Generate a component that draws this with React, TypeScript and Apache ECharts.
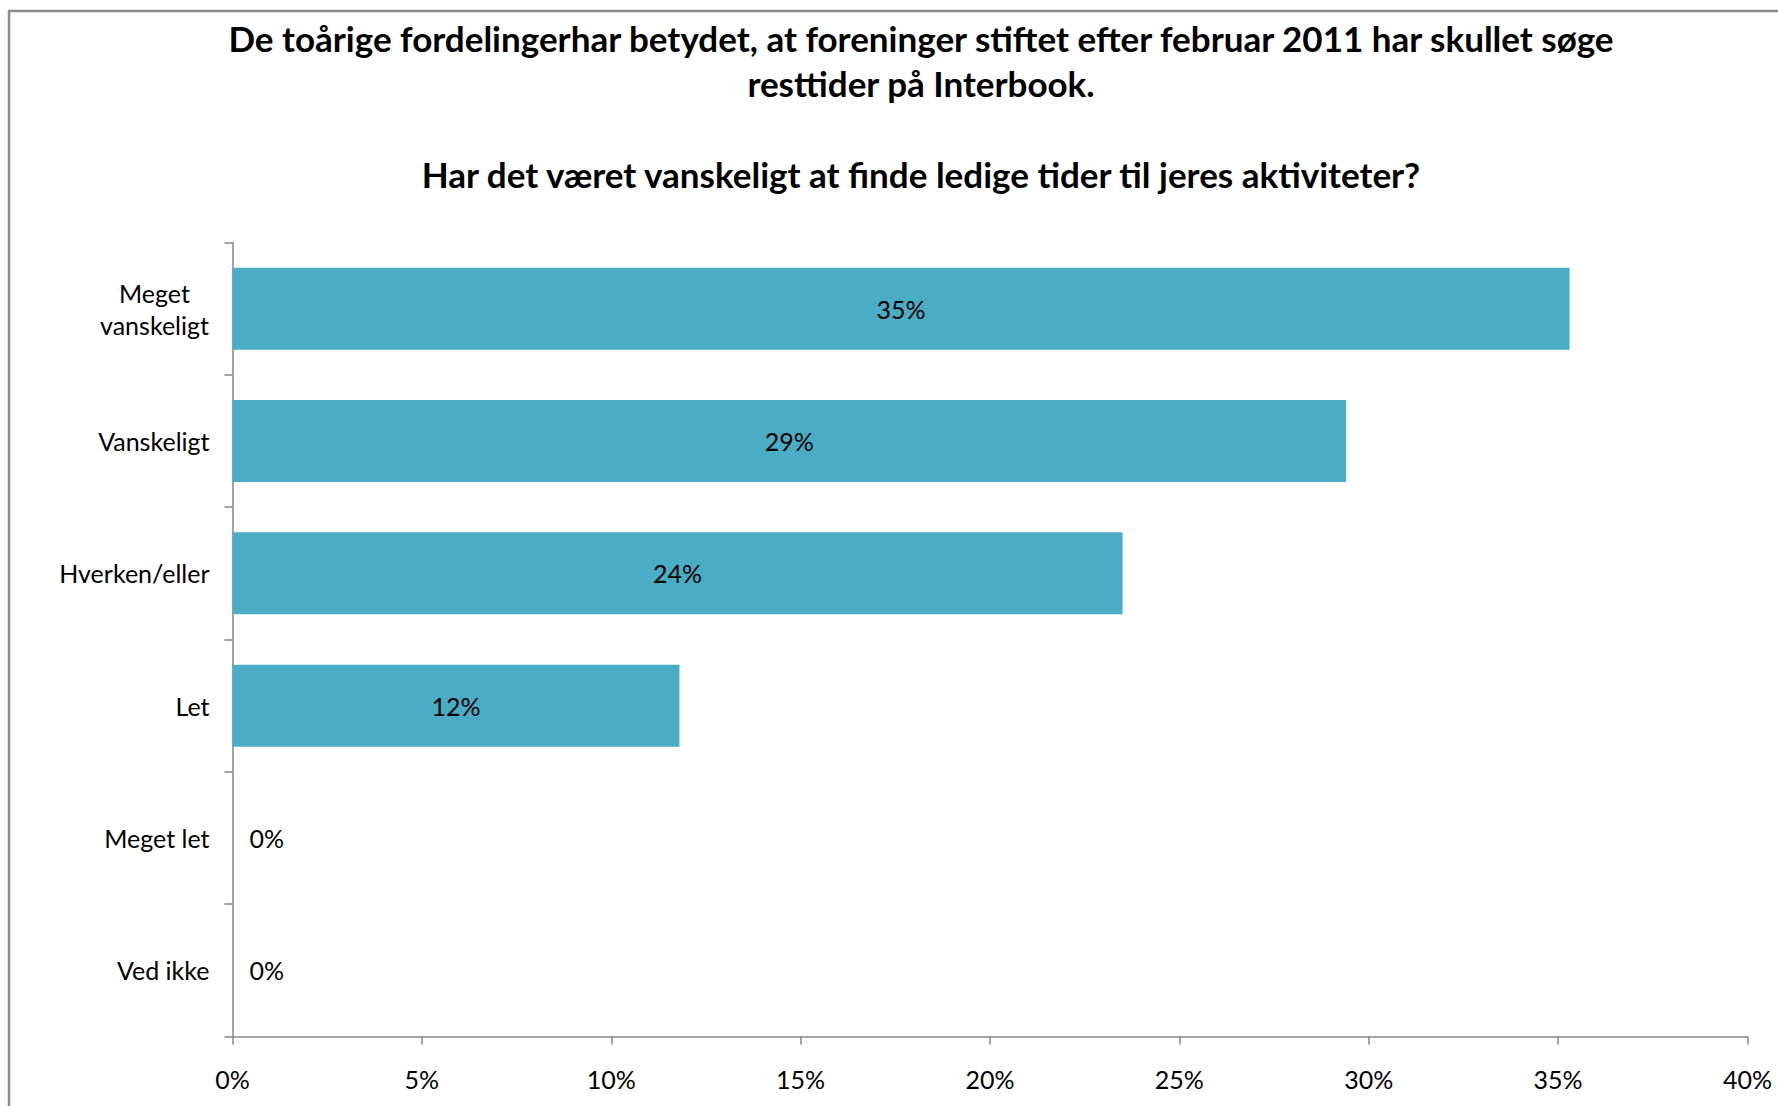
import React, { useEffect, useRef } from "react";
import * as echarts from "echarts";

const titleLines = [
  "De toårige fordelingerhar betydet, at foreninger stiftet efter februar 2011 har skullet søge",
  "resttider på Interbook.",
];
const subtitle = "Har det været vanskeligt at finde ledige tider til jeres aktiviteter?";
const categories = ["Meget\nvanskeligt", "Vanskeligt", "Hverken/eller", "Let", "Meget let", "Ved ikke"];
const values = [35.3, 29.4, 23.5, 11.8, 0, 0];
const xTicks = [0, 5, 10, 15, 20, 25, 30, 35, 40];

const FONT = "Lato, 'Open Sans', sans-serif";
const LABEL_SIZE = 25;

export default function App() {
  const ref = useRef<HTMLDivElement>(null);
  useEffect(() => {
    if (!ref.current) return;
    const chart = echarts.init(ref.current, null, { renderer: "svg" });
    const option = {
      animation: false,
      backgroundColor: "#ffffff",
      grid: { left: 232.5, right: 30.5, top: 242.5, bottom: 69.5, containLabel: false },
      graphic: [
        {
          type: "rect",
          shape: { x: 9, y: 11, width: 2000, height: 2000 },
          style: { fill: "none", stroke: "#8c8c8c", lineWidth: 2.5 },
          silent: true,
        },
        {
          type: "text",
          x: 921,
          y: 15.5,
          style: {
            text: titleLines.join("\n"),
            font: `bold 35px ${FONT}`,
            fill: "#000",
            textAlign: "center",
            textVerticalAlign: "top",
            lineHeight: 45,
          },
        },
        {
          type: "text",
          x: 921,
          y: 151.5,
          style: {
            text: subtitle,
            font: `bold 35px ${FONT}`,
            fill: "#000",
            textAlign: "center",
            textVerticalAlign: "top",
            lineHeight: 45,
          },
        },
      ],
      xAxis: {
        type: "value",
        min: 0,
        max: 40,
        interval: 5,
        splitLine: { show: false },
        axisLine: { show: true, lineStyle: { color: "#868686", width: 1.5 } },
        axisTick: { show: true, length: 8, lineStyle: { color: "#868686", width: 1.5 } },
        axisLabel: {
          formatter: (v: number) => (xTicks.includes(v) ? `${v}%` : ""),
          margin: 30,
          fontSize: LABEL_SIZE,
          fontFamily: FONT,
          color: "#000",
        },
      },
      yAxis: {
        type: "category",
        inverse: true,
        data: categories,
        axisLine: { show: true, lineStyle: { color: "#868686", width: 1.5 } },
        axisTick: { show: true, length: 8, lineStyle: { color: "#868686", width: 1.5 } },
        axisLabel: {
          margin: 23,
          fontSize: LABEL_SIZE,
          fontFamily: FONT,
          color: "#000",
          align: "right",
          formatter: (v: string) =>
            v.includes("\n") ? v.split("\n").map((s) => `{c|${s}}`).join("\n") : v,
          rich: {
            c: {
              width: 110,
              align: "center",
              fontSize: LABEL_SIZE,
              fontFamily: FONT,
              color: "#000",
              lineHeight: 32,
            },
          },
        },
      },
      series: [
        {
          type: "bar",
          data: values.map((v) => ({
            value: v,
            label: v === 0 ? { position: "right", distance: 17 } : { position: "inside" },
          })),
          barCategoryGap: "38%",
          itemStyle: { color: "#4BACC6" },
          label: {
            show: true,
            formatter: (p: any) => `${Math.round(p.value)}%`,
            fontSize: LABEL_SIZE,
            fontFamily: FONT,
            color: "#000",
          },
        },
      ],
    };
    chart.setOption(option as any);
    return () => chart.dispose();
  }, []);
  return (
    <div
      ref={ref}
      style={{ position: "absolute", left: 0, top: 0, width: 1778, height: 1106 }}
    />
  );
}
